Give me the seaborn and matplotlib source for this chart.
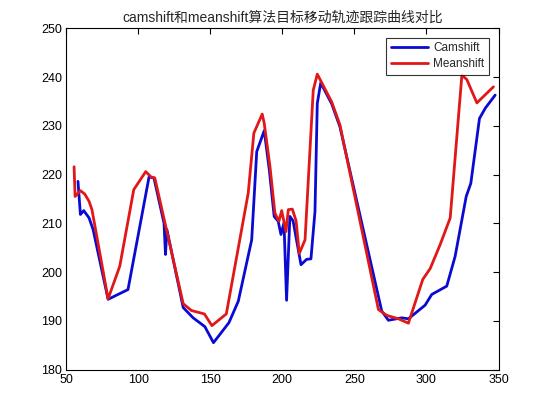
import numpy as np
import pandas as pd
import matplotlib
matplotlib.use("Agg")
import matplotlib.pyplot as plt
import seaborn as sns

title = "camshift和meanshift算法目标移动轨迹跟踪曲线对比"
labels = ["Camshift", "Meanshift"]

cam_x = [58.3, 60.0, 62.3, 66.0, 68.8, 79.2, 93.0, 107.6, 111.0, 118.0, 119.0, 120.0,
         131.3, 138.2, 146.3, 152.3, 163.0, 169.5, 178.8, 182.3, 187.5, 191.0, 194.4,
         197.2, 199.1, 201.2, 203.0, 205.3, 207.5, 213.0, 216.9, 219.9, 222.7, 224.3,
         226.7, 234.3, 240.0, 269.0, 273.6, 282.9, 287.5, 299.1, 303.7, 314.1, 319.9,
         327.6, 330.8, 336.8, 340.8, 347.7]
cam_y = [218.6, 211.8, 212.6, 211.1, 208.7, 194.4, 196.4, 219.5, 219.3, 210.0, 203.6, 208.7,
         192.7, 190.6, 188.8, 185.5, 189.6, 194.0, 206.6, 224.7, 229.0, 221.0, 211.4,
         210.4, 207.7, 210.1, 194.2, 211.4, 210.5, 201.5, 202.6, 202.7, 212.4, 234.6,
         238.8, 234.5, 229.8, 192.0, 190.1, 190.6, 190.4, 193.2, 195.4, 197.1, 203.2,
         215.5, 218.2, 231.5, 233.6, 236.3]

mean_x = [55.6, 56.3, 60.0, 63.0, 66.0, 68.0, 79.2, 87.3, 97.0, 105.3, 109.0, 111.6,
          131.3, 137.0, 146.0, 151.2, 161.2, 176.4, 180.3, 186.1, 187.5, 191.5, 194.9,
          197.7, 199.6, 202.6, 204.2, 207.0, 209.6, 211.8, 215.8, 221.5, 224.3, 234.3,
          240.0, 266.7, 272.5, 280.6, 287.5, 297.5, 302.6, 309.5, 316.5, 324.6, 328.0,
          335.0, 346.5]
mean_y = [221.6, 215.5, 216.7, 216.0, 214.5, 212.8, 194.5, 201.2, 216.9, 220.6, 219.5, 219.3,
          193.5, 192.1, 191.4, 189.0, 191.4, 216.2, 228.5, 232.4, 230.5, 221.6, 212.1,
          210.4, 212.6, 208.3, 212.8, 212.9, 210.5, 203.8, 206.6, 237.3, 240.6, 234.9,
          230.2, 192.3, 191.1, 190.4, 189.5, 198.5, 200.7, 205.6, 211.1, 240.4, 239.5,
          234.7, 238.0]

x_ticks = [50, 100, 150, 200, 250, 300, 350]
y_ticks = [180, 190, 200, 210, 220, 230, 240, 250]

df = pd.concat([
    pd.DataFrame({"x": cam_x, "y": cam_y, "s": labels[0]}),
    pd.DataFrame({"x": mean_x, "y": mean_y, "s": labels[1]}),
])

sns.set_style("white")
plt.rcParams['font.family'] = ['Liberation Sans', 'Noto Sans CJK SC', 'DejaVu Sans']

fig = plt.figure(figsize=(5.43, 3.98), dpi=100)
ax = fig.add_axes([66 / 543, 1 - 369.5 / 398, (498.5 - 66) / 543, (369.5 - 28.3) / 398])

sns.lineplot(data=df, x="x", y="y", hue="s", estimator=None, sort=False,
             palette={labels[0]: "#0a0ad2", labels[1]: "#e01818"}, linewidth=2.0, ax=ax)

ax.set_xlim(50, 350)
ax.set_ylim(180, 250)
ax.set_xticks(x_ticks)
ax.set_yticks(y_ticks)
ax.set_xlabel("")
ax.set_ylabel("")
for sp in ax.spines.values():
    sp.set_visible(True)
    sp.set_color("black")
    sp.set_linewidth(0.8)
ax.tick_params(direction="in", length=4, width=0.8, top=True, right=True,
               labelsize=9, colors="black", pad=3)
ax.set_title(title, fontsize=10, pad=5, family=['Liberation Sans', 'Noto Sans CJK SC'])

leg = ax.legend(loc="upper right", frameon=True, fancybox=False, fontsize=8.5,
                handlelength=3.2, borderaxespad=0.8, borderpad=0.4, labelspacing=0.3,
                handletextpad=0.4)
leg.get_frame().set_edgecolor("black")
leg.get_frame().set_linewidth(0.8)
leg.set_title(None)

fig.savefig("out.png", dpi=100, facecolor="white")
